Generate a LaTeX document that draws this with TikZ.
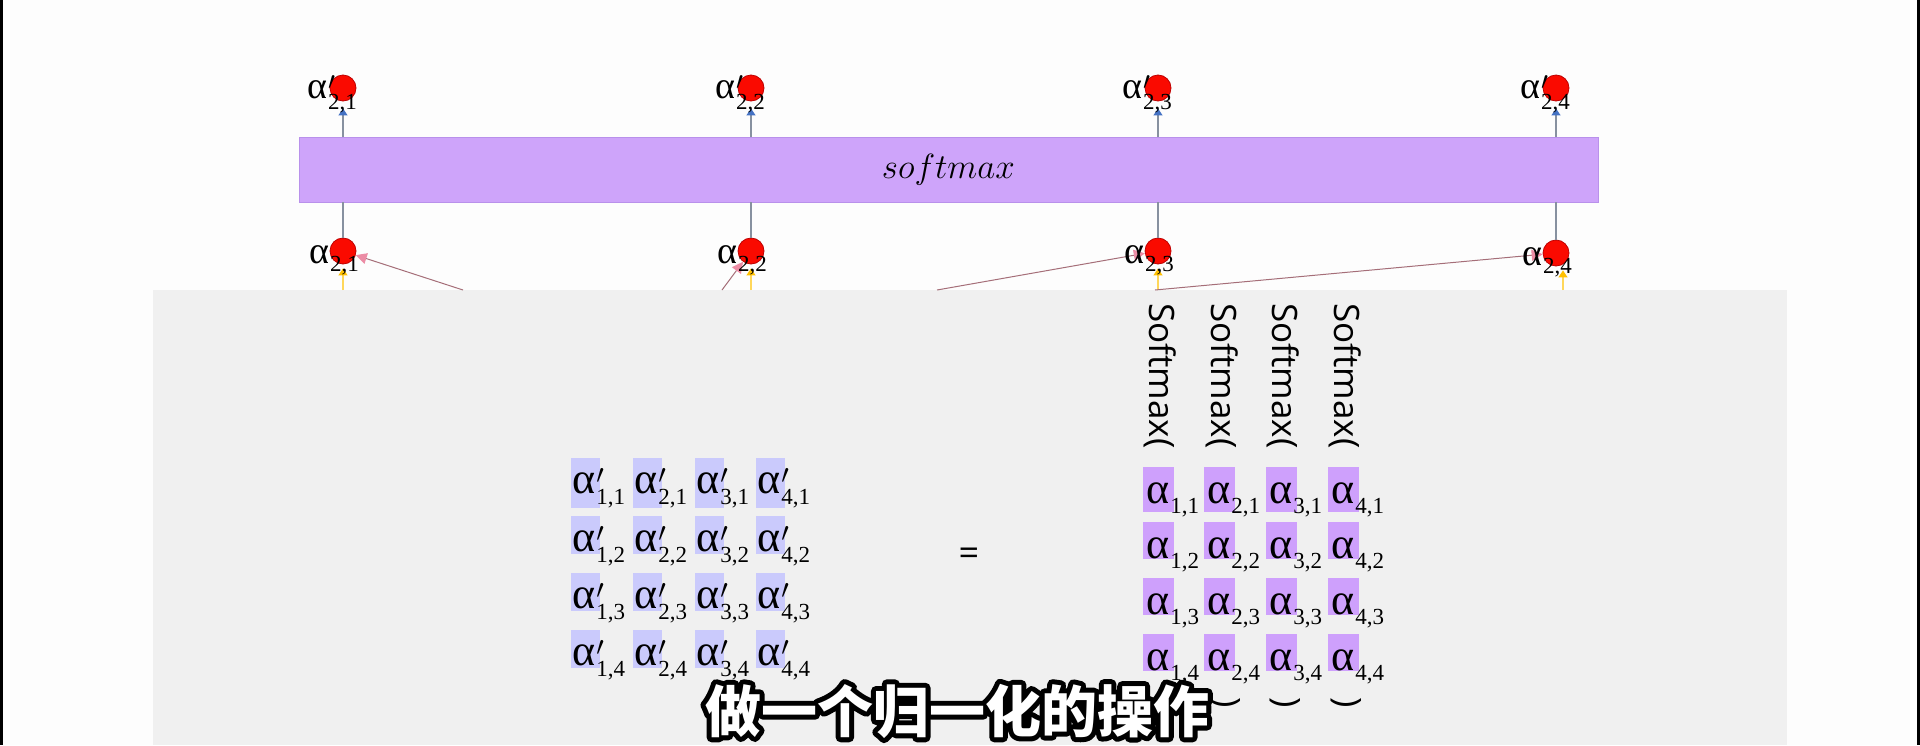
\RequirePackage{fix-cm}
\documentclass[tikz,border=0pt]{standalone}
\usepackage{fontspec}
\usetikzlibrary{arrows.meta}
\newfontfamily\lf{Liberation Serif}
\newfontfamily\osf{Open Sans}
\newfontfamily\cjk{Noto Sans CJK SC}
\definecolor{bgw}{RGB}{253,253,253}
\definecolor{panelc}{RGB}{240,240,240}
\definecolor{barc}{RGB}{206,164,250}
\definecolor{bard}{RGB}{185,145,235}
\definecolor{lboxc}{RGB}{202,202,252}
\definecolor{rboxc}{RGB}{206,160,252}
\definecolor{dotc}{RGB}{250,10,0}
\definecolor{dotd}{RGB}{190,0,0}
\definecolor{glc}{RGB}{135,145,160}
\definecolor{bluea}{RGB}{68,114,196}
\definecolor{yela}{RGB}{255,192,0}
\definecolor{yell}{RGB}{255,215,90}
\definecolor{pinka}{RGB}{236,140,165}
\definecolor{pinkl}{RGB}{165,110,120}
% alpha with prime / without prime
\newcommand\amp[2]{\lf{\fontsize{44}{44}\selectfont α}\kern1pt\rlap{\raisebox{10pt}{\fontsize{27}{27}\selectfont$\prime$}}\raisebox{-11pt}{\fontsize{23}{23}\selectfont #1,#2}}
\newcommand\amn[2]{\lf{\fontsize{44}{44}\selectfont α}\kern1pt\raisebox{-10pt}{\fontsize{23}{23}\selectfont #1,#2}}
\newcommand\tlp[2]{\lf{\fontsize{38}{38}\selectfont α}\kern1pt\rlap{\raisebox{9pt}{\fontsize{25}{25}\selectfont$\prime$}}\raisebox{-11pt}{\fontsize{23}{23}\selectfont #1,#2}}
\newcommand\tln[2]{\lf{\fontsize{38}{38}\selectfont α}\kern1pt\raisebox{-8pt}{\fontsize{23}{23}\selectfont #1,#2}}
\newcommand\outlined[1]{\rlap{\color{black}\special{pdf:literal direct 2 Tr 10 w 1 j}#1\special{pdf:literal direct 0 Tr 1 w}}\textcolor{white}{#1}}
\begin{document}
\begin{tikzpicture}[x=1pt,y=-1pt,
  dot/.style={circle,fill=dotc,draw=dotd,line width=0.8pt,minimum size=26pt,inner sep=0pt},
  cell/.style={anchor=base west,inner sep=0pt},
  gline/.style={draw=glc,line width=1.3pt},
  yline/.style={draw=yell,line width=1.3pt},
  pline/.style={draw=pinkl,line width=1pt},
  vtext/.style={rotate=-90,inner sep=0pt,font=\osf\fontsize{35}{35}\selectfont},
  tipb/.style={-{Triangle[length=7pt,width=9pt,color=bluea]}},
  tipy/.style={-{Triangle[length=7pt,width=9pt,color=yela]}},
  tipp/.style={-{Triangle[length=11pt,width=11pt,color=pinka]}}]
\useasboundingbox (0,0) rectangle (1920,745);
\fill[bgw] (0,0) rectangle (1920,745);
\fill[black] (0,0) rectangle (3,745);
\fill[black] (1917,0) rectangle (1920,745);
% panel
\fill[panelc] (153,290) rectangle (1787,745);
% softmax bar
\node[fill=barc,draw=bard,line width=0.8pt,minimum width=1299pt,minimum height=65pt,inner sep=0pt]
  (bar) at (948.5,169.5) {\fontsize{35}{35}\selectfont$softmax$};
% circles
\node[dot] (t1) at (343,88) {};
\node[dot] (t2) at (751,88) {};
\node[dot] (t3) at (1158,88) {};
\node[dot] (t4) at (1556,88) {};
\node[dot] (b1) at (343,251) {};
\node[dot] (b2) at (751,251) {};
\node[dot] (b3) at (1158,251) {};
\node[dot] (b4) at (1556,253) {};
% connectors
\foreach \i in {1,2,3,4}{
  \draw[gline,tipb] (t\i |- bar.north) -- ([yshift=-7pt]t\i.south);
  \draw[gline] (b\i.north) -- (b\i |- bar.south);
}
\coordinate (y1) at (343,290);
\coordinate (y2) at (751,290);
\coordinate (y3) at (1158,290);
\coordinate (y4) at (1563,290);
\draw[yline,tipy] (y1) -- ([yshift=-4pt]b1.south);
\draw[yline,tipy] (y2) -- ([yshift=-4pt]b2.south);
\draw[yline,tipy] (y3) -- ([yshift=-4pt]b3.south);
\draw[yline,tipy] (y4) -- ([xshift=7pt,yshift=-4pt]b4.south);
\coordinate (p1) at (463,290);
\coordinate (p2) at (722,290);
\coordinate (p3) at (937,290);
\coordinate (p4) at (1155,290);
\draw[pline,tipp] (p1) -- (b1);
\draw[pline,tipp] (p2) -- (b2);
\draw[pline,tipp] (p3) -- (b3);
\draw[pline,tipp] (p4) -- (b4);
% labels
\node[cell] (lt1) at (307,98) {\tlp{2}{1}};
\node[cell] (lt2) at (715,98) {\tlp{2}{2}};
\node[cell] (lt3) at (1122,98) {\tlp{2}{3}};
\node[cell] (lt4) at (1520,98) {\tlp{2}{4}};
\node[cell] (lb1) at (309,263) {\tln{2}{1}};
\node[cell] (lb2) at (717,263) {\tln{2}{2}};
\node[cell] (lb3) at (1124,263) {\tln{2}{3}};
\node[cell] (lb4) at (1522,265) {\tln{2}{4}};
% left matrix
\foreach \c/\x in {1/572,2/634,3/696,4/757}{
  \foreach \r/\yb/\bb in {1/493/15,2/551/3,3/608/3,4/665/3}{
    \fill[lboxc] (\x-1,\yb-35) rectangle (\x+28,\yb+\bb);
    \node[cell] (L\c\r) at (\x,\yb) {\amp{\c}{\r}};
  }}
% equals
\node[font=\osf\fontsize{36}{36}\selectfont,inner sep=0pt] (eq) at (969,557) {=};
% right matrix
\foreach \c/\x in {1/1146,2/1207,3/1269,4/1331}{
  \foreach \r/\yb/\bb in {1/503/9,2/558/1,3/614/1,4/670/1}{
    \fill[rboxc] (\x-3,\yb-36) rectangle (\x+28,\yb+\bb);
    \node[cell] (R\c\r) at (\x,\yb) {\amn{\c}{\r}};
  }}
% vertical Softmax(
\node[vtext] (s1) at (1160,376) {Softmax(};
\node[vtext] (s2) at (1222,376) {Softmax(};
\node[vtext] (s3) at (1283,376) {Softmax(};
\node[vtext] (s4) at (1345,376) {Softmax(};
\node[vtext] (c1) at (1163,703) {)};
\node[vtext] (c2) at (1225,703) {)};
\node[vtext] (c3) at (1285,703) {)};
\node[vtext] (c4) at (1346,703) {)};
% subtitle
\node[inner sep=0pt] (sub) at (957,711) {\cjk\bfseries\fontsize{56}{56}\selectfont\outlined{做一个归一化的操作}};
\end{tikzpicture}
\end{document}
